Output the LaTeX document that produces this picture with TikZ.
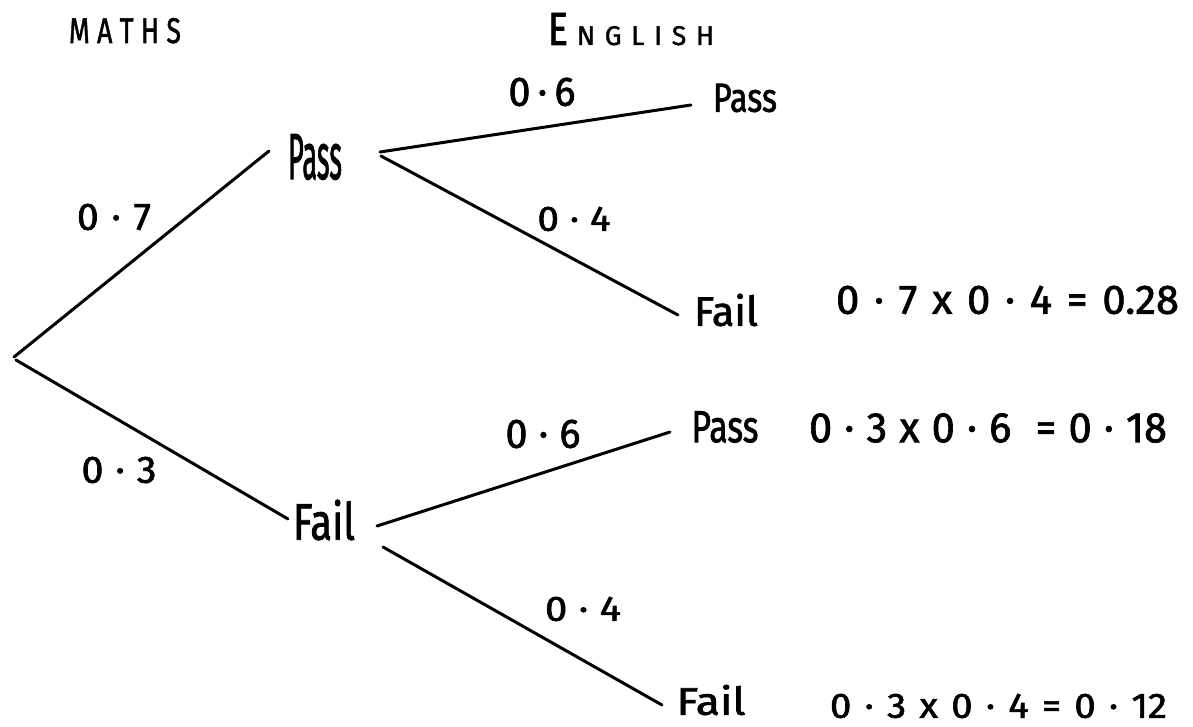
\documentclass[tikz,border=0pt]{standalone}
\usepackage{fontspec}
\usepackage{graphicx}
\setmainfont{Fira Sans}
\newfontfamily\handfont{Fira Sans}[FakeBold=1.6]
\usetikzlibrary{calc}
% fit a text into a box of given width and height
\newcommand{\fitto}[3]{\resizebox{#1}{#2}{\hbox{#3}}}
\begin{document}
\begin{tikzpicture}[x=1pt,y=-1pt,
  branch/.style={line width=3pt, line cap=round},
  txt/.style={inner sep=0pt, outer sep=0pt, font=\handfont\fontsize{30}{34}\selectfont},
  res/.style={txt, anchor=west}]
\fill[white] (0,0) rectangle (1193,727);
\useasboundingbox (0,0) rectangle (1193,727);

% headings
\node[txt, anchor=base west] (hmaths) at (69,43) {\fitto{112pt}{25pt}{\hbox to 4.2em{M\hfil A\hfil T\hfil H\hfil S}}};
\node[txt, anchor=base west] (heng) at (548,45) {\fitto{20pt}{32pt}{E}\hspace{9pt}\fitto{137pt}{19pt}{\hbox to 5.2em{N\hfil G\hfil L\hfil I\hfil S\hfil H}}};

% tree nodes
\coordinate (root) at (14,357);
\node[txt] (pm) at (315,157) {\fitto{54pt}{45pt}{Pass}};
\node[txt] (fm) at (324,520) {\fitto{62pt}{40pt}{Fail}};
\node[txt] (pp) at (745,98) {\fitto{64pt}{28pt}{Pass}};
\node[txt] (pf) at (726,310) {\fitto{64pt}{32pt}{Fail}};
\node[txt] (fp) at (725,427) {\fitto{67pt}{31pt}{Pass}};
\node[txt] (ff) at (711,700) {\fitto{69pt}{30pt}{Fail}};

% branches
\draw[branch] (root) -- ($(pm)+(-46,-6)$);
\draw[branch] ($(root)+(2,3)$) -- ($(fm)+(-36,-1)$);
\draw[branch] ($(pm)+(65,-5)$) -- ($(pp)+(-54,7)$);
\draw[branch] ($(pm)+(66,-1)$) -- ($(pf)+(-48,5)$);
\draw[branch] ($(fm)+(53,6)$) -- ($(fp)+(-55,5)$);
\draw[branch] ($(fm)+(59,27)$) -- ($(ff)+(-49,5)$);

% probabilities
\node[txt] (p07) at (114,217) {\fitto{74pt}{26pt}{\hbox to 1.9em{0\hfil ·\hfil 7}}};
\node[txt] (p03) at (119,470) {\fitto{75pt}{26pt}{\hbox to 1.9em{0\hfil ·\hfil 3}}};
\node[txt] (p06a) at (542,92) {\fitto{67pt}{28pt}{\hbox to 1.7em{0\hfil ·\hfil 6}}};
\node[txt] (p04a) at (574,219) {\fitto{73pt}{24pt}{\hbox to 1.9em{0\hfil ·\hfil 4}}};
\node[txt] (p06b) at (543,434) {\fitto{75pt}{28pt}{\hbox to 1.9em{0\hfil ·\hfil 6}}};
\node[txt] (p04b) at (583,609) {\fitto{76pt}{24pt}{\hbox to 1.9em{0\hfil ·\hfil 4}}};

% results
\node[res] (r1) at (836,300) {\fitto{343pt}{28pt}{\hbox to 8.2em{0\hfil ·\hfil 7\hfil x\hfil 0\hfil ·\hfil 4\hfil =\hfil 0.28}}};
\node[res] (r2) at (809,428) {\fitto{358pt}{29pt}{\hbox to 8.6em{0\hfil ·\hfil 3\hfil x\hfil 0\hfil ·\hfil 6\hfil\hfil =\hfil 0\hfil·\hfil 18}}};
\node[res] (r3) at (830,706) {\fitto{337pt}{24pt}{\hbox to 8.8em{0\hfil ·\hfil 3\hfil x\hfil 0\hfil ·\hfil 4\hfil =\hfil 0\hfil·\hfil 12}}};
\end{tikzpicture}
\end{document}
